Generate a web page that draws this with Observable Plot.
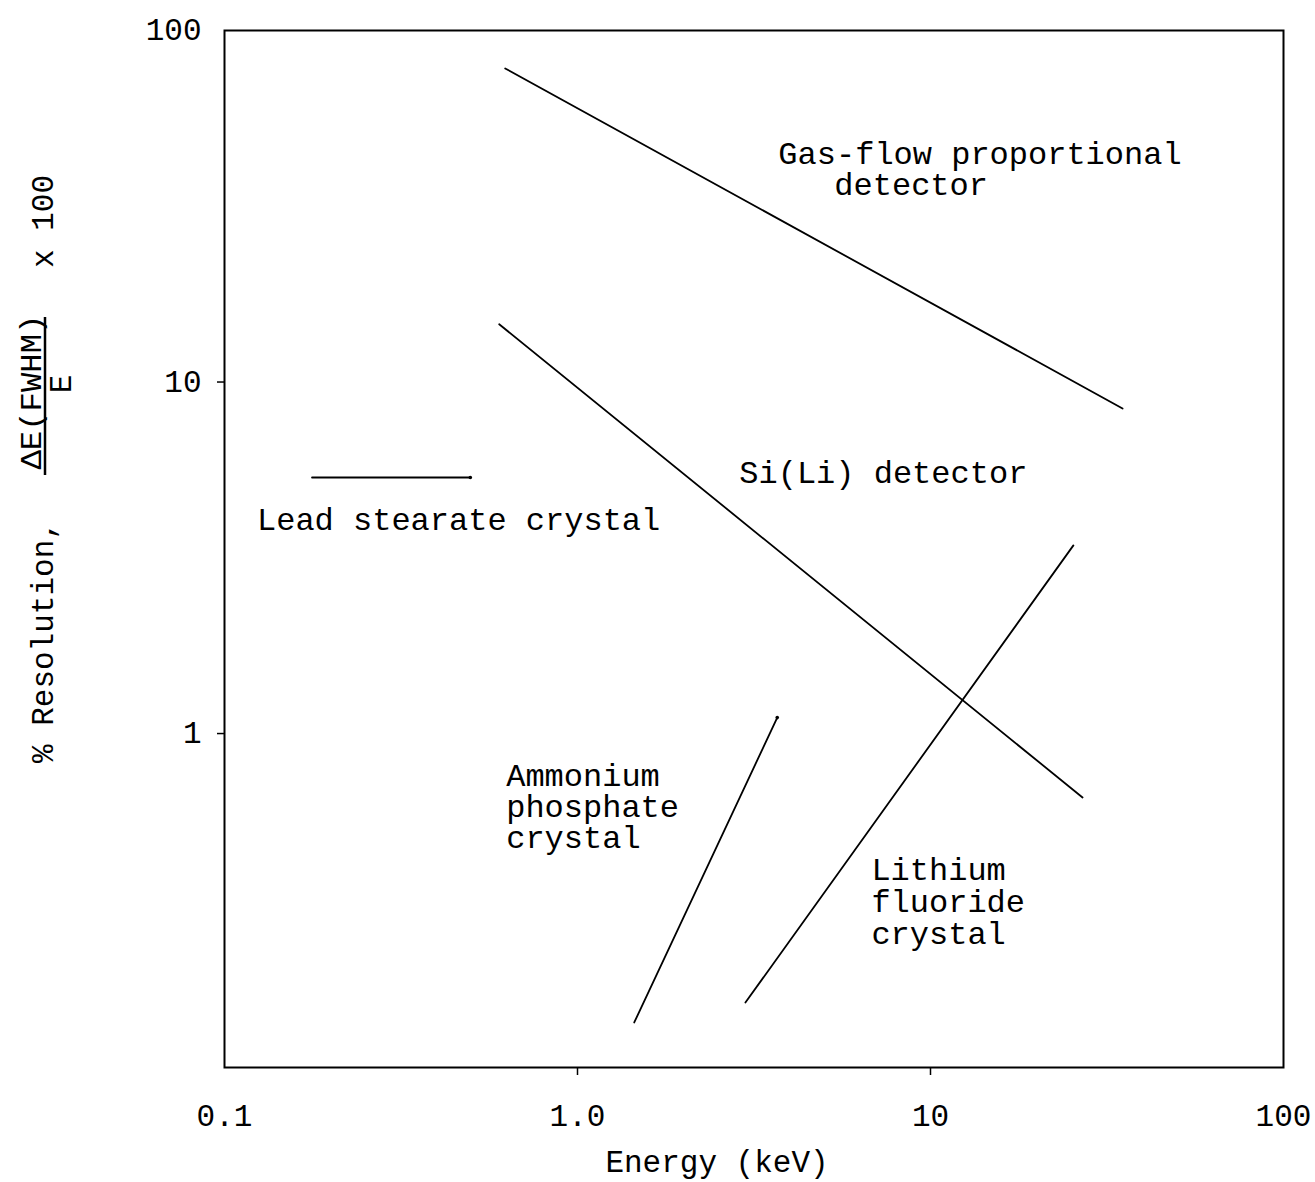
<!DOCTYPE html>
<html>
<head>
<meta charset="utf-8">
<script src="https://cdn.jsdelivr.net/npm/d3@7"></script>
<script src="https://cdn.jsdelivr.net/npm/@observablehq/plot@0.6"></script>
<style>
  html, body { margin: 0; padding: 0; background: #fff; }
</style>
</head>
<body>
<div id="chart"></div>
<script>
// Energy resolution of X-ray detectors and analyzing crystals (log-log)

// Axis ticks
const energyTicks = [0.1, 1, 10, 100];
const energyTickLabels = ["0.1", "1.0", "10", "100"];
const resolutionTicks = [1, 10, 100];
const resolutionTickLabels = ["1", "10", "100"];

// Series: endpoints of each straight-line trend (energy in keV, % resolution)
const gasFlowEnergy = [0.624, 35.0];
const gasFlowResolution = [78.0, 8.41];

const siLiEnergy = [0.600, 26.96];
const siLiResolution = [14.6, 0.658];

const leadStearateEnergy = [0.177, 0.497];
const leadStearateResolution = [5.35, 5.35];

const ammoniumPhosphateEnergy = [1.448, 3.68];
const ammoniumPhosphateResolution = [0.1507, 1.11];

const lithiumFluorideEnergy = [2.99, 25.4];
const lithiumFluorideResolution = [0.1717, 3.43];

// Annotation text and its anchor in data space
const labelText = ["Gas-flow proportional", "detector", "Si(Li) detector", "Lead stearate crystal",
  "Ammonium", "phosphate", "crystal", "Lithium", "fluoride", "crystal"];
const labelEnergy = [3.707, 5.34, 2.873, 0.1236, 0.628, 0.628, 0.628, 6.80, 6.80, 6.80];
const labelResolution = [44.7, 36.5, 5.53, 4.06, 0.760, 0.620, 0.506, 0.410, 0.3327, 0.270];

const seriesDefs = [
  ["Gas-flow proportional detector", gasFlowEnergy, gasFlowResolution],
  ["Si(Li) detector", siLiEnergy, siLiResolution],
  ["Lead stearate crystal", leadStearateEnergy, leadStearateResolution],
  ["Ammonium phosphate crystal", ammoniumPhosphateEnergy, ammoniumPhosphateResolution],
  ["Lithium fluoride crystal", lithiumFluorideEnergy, lithiumFluorideResolution]
];
const lineRows = seriesDefs.flatMap(([name, xs, ys]) => xs.map((x, i) => ({name, energy: x, resolution: ys[i]})));
const labelRows = labelText.map((t, i) => ({text: t, energy: labelEnergy[i], resolution: labelResolution[i]}));
const endDots = [
  {energy: ammoniumPhosphateEnergy[1], resolution: ammoniumPhosphateResolution[1]},
  {energy: leadStearateEnergy[1], resolution: leadStearateResolution[1]}
];

const FONT = "'Liberation Mono', 'Courier New', 'DejaVu Sans Mono', monospace";
const FS = 32;

const chart = Plot.plot({
  width: 1315,
  height: 1182,
  marginLeft: 224,
  marginRight: 32,
  marginTop: 30,
  marginBottom: 115,
  style: {fontFamily: FONT, fontSize: FS + "px", color: "#000", background: "#fff"},
  x: {type: "log", domain: [0.1, 100], label: null},
  y: {type: "log", domain: [0.1122, 100], label: null},
  marks: [
    Plot.frame({stroke: "#000", strokeWidth: 2}),
    // tick labels
    Plot.axisX(energyTicks, {tickSize: 0, tickPadding: 36, fontSize: 31, fontFamily: FONT,
      tickFormat: d => energyTickLabels[energyTicks.indexOf(d)], label: null}),
    Plot.axisY(resolutionTicks, {tickSize: 0, tickPadding: 23, fontSize: 31, fontFamily: FONT,
      tickFormat: d => resolutionTickLabels[resolutionTicks.indexOf(d)], label: null}),
    // tick stubs at the interior decades
    Plot.axisX([1, 10], {tickSize: 8, strokeWidth: 1.5, tickFormat: () => "", label: null}),
    Plot.axisY([1, 10], {tickSize: 7, strokeWidth: 1.5, tickFormat: () => "", label: null}),
    Plot.line(lineRows, {x: "energy", y: "resolution", z: "name", stroke: "#000", strokeWidth: 1.8}),
    Plot.dot(endDots, {x: "energy", y: "resolution", r: 1.8, fill: "#000", stroke: null}),
    Plot.text(labelRows, {x: "energy", y: "resolution", text: "text", textAnchor: "start",
      fontSize: FS, fontFamily: FONT, fill: "#000"})
  ]
});

document.getElementById("chart").appendChild(chart);

// Axis titles
const svg = d3.select(chart);
svg.append("text")
  .attr("x", 717).attr("y", 1172)
  .attr("text-anchor", "middle")
  .attr("font-family", FONT).attr("font-size", 31).attr("fill", "#000")
  .text("Energy (keV)");

const yTitle = svg.append("g").attr("transform", "rotate(-90)")
  .attr("font-family", FONT).attr("fill", "#000").attr("text-anchor", "start");
yTitle.append("text")
  .attr("x", -763).attr("y", 53)
  .attr("text-anchor", "start")
  .attr("font-size", 31)
  .text("% Resolution,");
yTitle.append("text")
  .attr("x", -392).attr("y", 41)
  .attr("text-anchor", "middle")
  .attr("font-size", 29)
  .attr("textLength", 155).attr("lengthAdjust", "spacingAndGlyphs")
  .text("\u0394E(FWHM)");
yTitle.append("line")
  .attr("x1", -475).attr("x2", -317)
  .attr("y1", 45).attr("y2", 45)
  .attr("stroke", "#000").attr("stroke-width", 2.5);
yTitle.append("text")
  .attr("x", -384).attr("y", 71)
  .attr("text-anchor", "middle")
  .attr("font-size", 31)
  .text("E");
yTitle.append("text")
  .attr("x", -268).attr("y", 53)
  .attr("text-anchor", "start")
  .attr("font-size", 31)
  .text("x 100");
</script>
</body>
</html>
